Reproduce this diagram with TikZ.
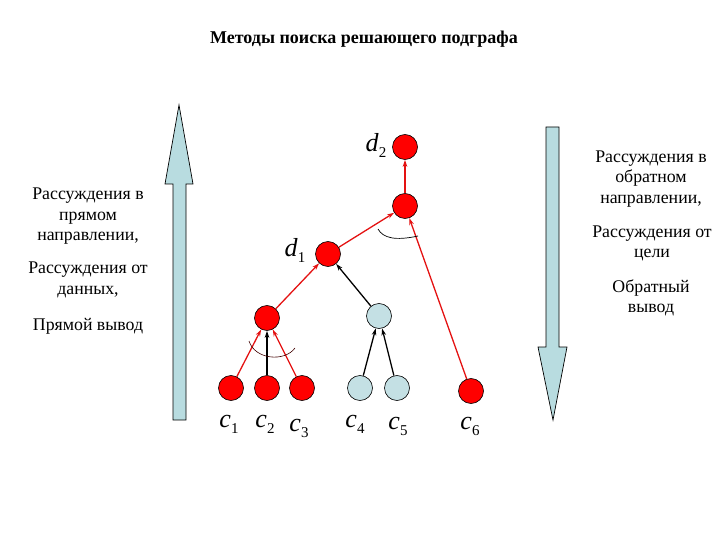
\documentclass[tikz,border=0pt]{standalone}
\usepackage{fontspec}
\setmainfont{Liberation Serif}
\usetikzlibrary{arrows.meta}
\definecolor{nodered}{RGB}{255,0,0}
\definecolor{lblue}{RGB}{196,224,228}
\definecolor{arrowblue}{RGB}{184,220,224}
\definecolor{edgered}{RGB}{228,18,18}
\newcommand\vlab[2]{\textit{#1}\raisebox{-6pt}{\fontsize{15}{15}\selectfont #2}}
\begin{document}
\begin{tikzpicture}[x=1pt,y=-1pt,
  vert/.style={circle,draw=black,line width=0.6pt,minimum size=25pt,inner sep=0pt},
  rv/.style={vert,fill=nodered},
  bv/.style={vert,fill=lblue},
  redge/.style={draw=edgered,line width=1.3pt,-{Stealth[length=7pt,width=4.5pt]}},
  bedge/.style={draw=black,line width=1.3pt,-{Stealth[length=7pt,width=4.5pt]}},
  lbl/.style={font=\fontsize{26}{26}\selectfont, inner sep=0pt},
  side/.style={align=center,font=\fontsize{17.8}{20.5}\selectfont, inner sep=0pt},
  bigarrow/.style={fill=arrowblue,draw=black,line width=0.7pt},
  anglearc/.style={draw=black,line width=0.7pt}]
\useasboundingbox (0,0) rectangle (720,540);

% title
\node[font=\fontsize{18}{18}\selectfont\bfseries, inner sep=0pt] (title) at (364,39) {Методы поиска решающего подграфа};

% big arrows
\draw[bigarrow] (173,420) -- (173,184) -- (165,184) -- (179,105) -- (193,184) -- (186,184) -- (186,420) -- cycle;
\draw[bigarrow] (546,127) -- (546,347) -- (538,347) -- (553,420) -- (567,347) -- (559,347) -- (559,127) -- cycle;

% vertices
\node[rv] (d2) at (405,147) {};
\node[rv] (top) at (405,206) {};
\node[rv] (d1) at (328,254) {};
\node[rv] (l) at (267,318) {};
\node[bv] (b) at (379,316) {};
\node[rv] (c1) at (231,388) {};
\node[rv] (c2) at (267,388) {};
\node[rv] (c3) at (302,388) {};
\node[bv] (c4) at (360,388) {};
\node[bv] (c5) at (397,388) {};
\node[rv] (c6) at (471,391) {};

% labels
\node[lbl] (ld2) at (376,145) {\vlab{d}{2}};
\node[lbl] (ld1) at (295,250) {\vlab{d}{1}};
\node[lbl] (lc1) at (229,424) {\vlab{c}{1}};
\node[lbl] (lc2) at (265,424) {\vlab{c}{2}};
\node[lbl] (lc3) at (299,428) {\vlab{c}{3}};
\node[lbl] (lc4) at (355,424) {\vlab{c}{4}};
\node[lbl] (lc5) at (398,426) {\vlab{c}{5}};
\node[lbl] (lc6) at (470,426) {\vlab{c}{6}};

% edges
\draw[redge] (c1) -- (l);
\draw[bedge] (c2) -- (l);
\draw[redge] (c3) -- (l);
\draw[bedge] (c4) -- (b);
\draw[bedge] (c5) -- (b);
\draw[bedge] (b) -- (d1);
\draw[redge] (l) -- (d1);
\draw[redge] (d1) -- (top);
\draw[redge] (c6) -- (top);
\draw[redge] (top) -- (d2);

% angle arcs
\coordinate (ta) at (378,229);
\coordinate (tb) at (418,236);
\draw[anglearc] (ta) .. controls (383,238) and (395,241) .. (tb);
\coordinate (la) at (249,341);
\coordinate (lb) at (295,348);
\draw[anglearc, draw=black!75!red, line width=0.6pt] (la) .. controls (255,360) and (285,362) .. (lb);

% side texts
\node[side] (lt1) at (88,216.5) {Рассуждения в\\прямом\\направлении,};
\node[side] (lt2) at (88,280) {Рассуждения от\\данных,};
\node[side] (lt3) at (88,326) {Прямой вывод};
\node[side] (rt1) at (651,179) {Рассуждения в\\обратном\\направлении,};
\node[side] (rt2) at (652,243.5) {Рассуждения от\\цели};
\node[side] (rt3) at (651,298) {Обратный\\вывод};
\end{tikzpicture}
\end{document}
